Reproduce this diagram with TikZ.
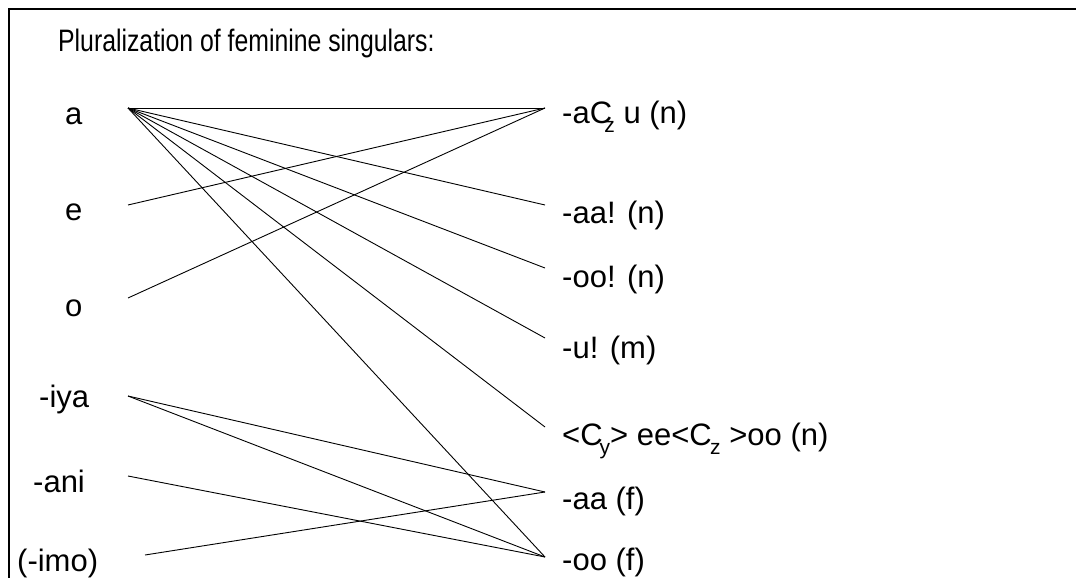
\documentclass[tikz,border=0pt]{standalone}
\usepackage{fontspec}
\setmainfont{Liberation Sans}
\newcommand{\sbs}[2][-0.1em]{\kern#1\raisebox{-0.32em}{\fontsize{21}{21}\selectfont #2}}
\begin{document}
\begin{tikzpicture}[x=1pt,y=-1pt,
  lbl/.style={anchor=base west,inner sep=0pt,font=\fontsize{31}{36}\selectfont},
  conn/.style={line width=0.9pt}]
\useasboundingbox (0,0) rectangle (1076,578);
\draw[line width=2.4pt] (9,578) -- (9,9) -- (1076,9);
\node[lbl] (title) at (58,52) {\scalebox{0.8}[1]{Pluralization of feminine singulars:}};
% left labels
\node[lbl] (la) at (65,124) {a};
\node[lbl] (le) at (65,220) {e};
\node[lbl] (lo) at (65,316) {o};
\node[lbl] (liya) at (39,407) {-iya};
\node[lbl] (lani) at (33,492) {-ani};
\node[lbl] (limo) at (17,571) {(-imo)};
% right labels
\node[lbl] (r1) at (562,123) {-aC\sbs[-0.25em]{z} u (n)};
\node[lbl] (r2) at (562,223) {-aa! (n)};
\node[lbl] (r3) at (562,287) {-oo! (n)};
\node[lbl] (r4) at (562,358) {-u! (m)};
\node[lbl] (r5) at (562,445) {<C\sbs{y}> ee<C\sbs[-0.05em]{z} >oo (n)};
\node[lbl] (r6) at (562,509) {-aa (f)};
\node[lbl] (r7) at (562,570) {-oo (f)};
% endpoints
\coordinate (pa) at (128,108);
\coordinate (pe) at (128,205);
\coordinate (po) at (128,298);
\coordinate (piya) at (128,396);
\coordinate (pani) at (128,476);
\coordinate (pimo) at (145,555);
\coordinate (q1) at (545,108);
\coordinate (q2) at (545,205);
\coordinate (q3) at (545,268);
\coordinate (q4) at (545,338);
\coordinate (q5) at (545,427);
\coordinate (q6) at (545,492);
\coordinate (q7) at (545,557);
% connectors
\draw[conn] (pa) -- (q1);
\draw[conn] (pa) -- (q2);
\draw[conn] (pa) -- (q3);
\draw[conn] (pa) -- (q4);
\draw[conn] (pa) -- (q5);
\draw[conn] (pa) -- (q7);
\draw[conn] (pe) -- (q1);
\draw[conn] (po) -- (q1);
\draw[conn] (piya) -- (q6);
\draw[conn] (piya) -- (q7);
\draw[conn] (pani) -- (q7);
\draw[conn] (pimo) -- (q6);
\end{tikzpicture}
\end{document}
